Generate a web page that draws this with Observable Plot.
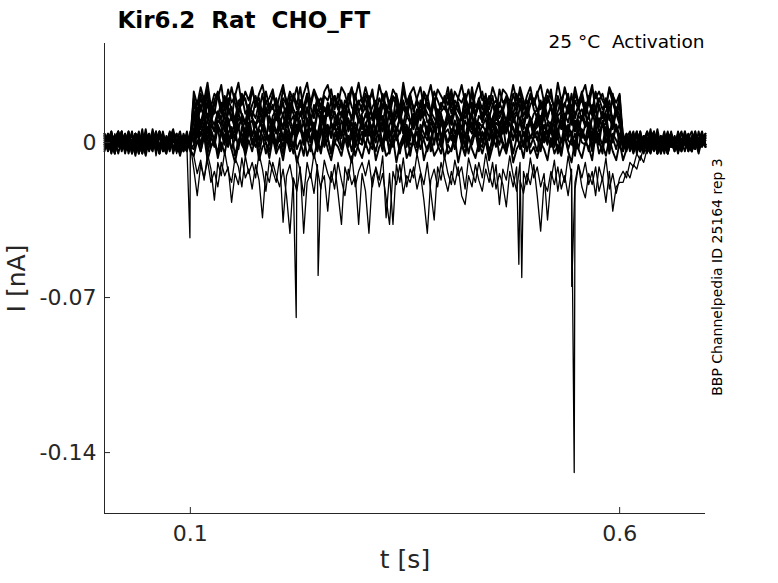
<!DOCTYPE html>
<html><head><meta charset="utf-8">
<script src="https://cdn.jsdelivr.net/npm/d3@7"></script>
<script src="https://cdn.jsdelivr.net/npm/@observablehq/plot@0.6"></script>
<style>body{margin:0;background:#fff} svg text{white-space:pre}</style>
</head><body><div id="chart"></div>
<script>
// sampling step (s) and segment start times
const dt = 0.004;
const segStart = [0, 0.104, 0.604];
// currents in pA, 16 sweeps; pre-pulse (0–0.1 s)
const pre = [
[2,-3,4,-1,5,-4,1,3,-5,0,4,-2,6,-3,2,-1,5,-4,3,-2,0,4,-5,2,-1,3],
[-1,3,-4,2,0,5,-3,1,-2,4,-5,3,0,-1,2,-4,5,1,-3,2,6,-2,0,-4,3,1],
[4,-2,1,-5,3,0,-3,5,-1,2,-4,1,4,-2,0,3,-5,2,-1,4,-3,1,5,-2,-4,2],
[-3,1,5,-2,0,3,-4,2,-1,4,1,-5,3,-2,0,5,-3,1,-4,2,3,-1,-2,4,0,-3],
[0,4,-3,2,-5,1,3,-2,5,-4,0,2,-1,4,-3,1,-5,3,0,-2,4,-4,2,1,-3,5],
[2,-4,0,3,-1,5,-3,1,-2,4,-5,2,0,-3,3,-1,4,-4,1,-2,5,0,-3,2,-1,4],
[-1,3,-5,2,0,-3,4,-2,1,-4,3,0,-6,2,-1,4,-3,1,-5,3,-2,0,2,-4,1,-2],
[3,-2,0,-5,2,-1,4,-3,1,-6,2,0,-4,3,-2,1,-5,4,-1,-3,2,0,-6,1,3,-4],
[1,-4,3,-2,5,0,-3,2,-5,4,-1,3,-2,0,-4,5,-1,2,-3,1,4,-5,0,3,-2,-1],
[-2,2,-5,4,-1,3,-3,0,5,-4,1,-2,3,-1,4,-6,2,0,-3,5,-2,1,-4,3,0,-3],
[1,-2,5,-3,0,4,-1,2,-5,3,-2,6,-4,1,0,-3,4,2,-1,5,-4,0,3,-2,1,-1],
[-4,2,0,-2,5,-1,3,-5,1,4,-3,0,2,-1,-4,5,-2,3,0,-3,1,4,-5,2,0,-2],
[3,-1,-4,2,5,-3,0,1,-2,4,-5,2,3,-1,0,-3,5,-2,1,-4,3,0,-1,2,-3,4],
[0,-3,4,1,-2,3,-5,2,0,-1,5,-3,1,-4,2,0,3,-2,-5,4,1,-1,2,-3,0,3],
[-2,4,1,-5,3,-1,0,5,-3,2,-4,1,3,-2,6,-1,-3,2,0,4,-5,1,-2,3,-1,0],
[4,0,-3,2,-1,5,-4,1,3,-2,0,-5,2,4,-1,1,-3,5,-2,0,3,-4,2,-1,5,-3]
];
// activation step (0.1–0.6 s)
const act = [
[20,14,22,17,24,13,19,23,15,21,16,25,18,12,22,19,14,24,17,20,13,23,16,21,18,
 15,24,19,13,22,17,25,14,20,16,23,18,12,21,19,24,15,22,17,13,20,25,16,19,14,
 22,18,24,13,20,16,23,15,21,19,12,24,17,22,14,20,25,16,18,13,23,19,15,21,17,
 24,14,20,18,22,13,25,16,19,23,15,21,17,12,24,18,20,14,22,16,25,19,13,21,17,
 23,15,20,18,24,13,21,16,25,19,14,22,17,23,15,20,26,14,19,22,16,24,18,13,21],
[11,19,14,21,10,17,13,22,16,12,20,15,9,18,21,13,16,11,19,14,22,12,17,15,20,
 13,18,10,21,15,12,19,16,22,11,14,20,17,9,18,13,21,15,12,19,16,10,22,14,17,
 20,12,16,19,11,21,14,17,10,22,15,18,13,20,16,9,19,12,21,14,17,11,18,15,22,
 13,19,16,10,21,14,18,12,20,15,22,11,17,19,13,16,21,10,18,14,20,12,16,22,15,
 11,18,14,21,16,12,20,13,17,22,10,19,15,21,12,18,14,23,16,11,20,15,19,13,17],
[14,8,17,11,19,9,15,12,18,7,13,16,10,19,12,8,16,14,11,18,9,15,13,17,10,
 16,12,7,18,13,10,19,11,15,8,17,14,9,16,12,19,10,13,18,7,15,11,17,14,9,
 12,18,10,15,8,17,13,19,11,14,9,16,12,18,7,15,10,17,13,11,19,8,14,16,12,
 9,17,14,11,18,8,15,12,19,10,16,13,7,17,11,15,9,18,12,14,10,16,19,8,13,
 15,10,18,12,16,9,14,19,11,17,8,13,16,10,18,12,15,7,17,11,14,19,9,16,12],
[6,13,9,15,4,11,8,14,10,5,16,12,7,13,9,3,15,11,8,12,6,14,10,4,13,
 11,7,15,9,12,5,14,8,16,10,4,13,11,7,15,9,6,12,14,8,10,3,16,11,7,
 13,9,5,15,10,12,6,14,8,11,16,4,12,9,13,7,15,10,5,14,11,8,13,6,12,
 8,14,11,6,15,9,13,4,12,10,16,7,11,14,8,12,5,15,9,13,10,6,14,11,7,
 12,5,14,10,8,15,11,6,13,9,16,7,12,10,14,4,11,15,8,13,9,12,6,14,10],
[3,10,6,12,1,8,5,13,7,2,11,4,9,6,12,0,8,10,3,7,11,5,2,9,13,
 6,1,10,8,4,12,7,3,11,5,9,0,13,6,8,2,10,7,4,12,5,9,1,11,6,
 8,12,3,7,10,5,13,2,9,6,11,4,8,1,12,7,5,10,3,9,6,13,2,8,11,
 4,9,7,12,2,10,6,11,3,8,5,13,1,9,7,10,4,12,6,2,11,8,5,9,3,
 10,6,12,4,8,1,11,7,9,3,13,5,10,2,8,12,6,4,11,7,9,1,12,5,8],
[0,7,3,9,-2,5,1,8,4,-1,10,2,6,-3,7,3,9,0,5,-2,8,4,1,6,-1,
 9,2,5,-2,7,3,10,0,6,1,8,-3,4,7,2,9,-1,5,3,8,0,6,-2,4,10,
 3,8,-1,6,2,9,4,-3,7,1,5,10,0,6,3,-2,8,4,1,7,-1,9,2,5,0,
 6,1,9,3,-2,7,4,10,0,5,2,8,-1,6,3,9,-3,4,7,1,5,-2,8,2,6,
 1,7,4,-1,9,3,6,0,8,2,5,-3,10,4,1,7,-2,6,3,9,0,5,2,8,-1],
[-3,4,-1,6,-5,2,0,7,-4,3,-2,5,-6,1,4,-3,6,-1,2,-5,3,0,-4,5,-2,
 2,-5,4,-1,6,-3,1,-6,5,0,3,-4,7,-2,2,-5,4,1,-3,6,-1,3,-6,0,5,
 -2,6,1,-4,3,-1,5,-5,2,4,-3,0,6,-6,3,-2,5,1,-4,2,7,-1,-5,4,0,
 3,-3,6,0,-5,2,-1,5,-4,4,1,-6,3,-2,6,0,-3,4,-5,2,-1,5,-4,3,1,
 -4,5,0,3,-2,6,-5,1,4,-3,2,-6,5,0,-1,4,-4,3,1,-5,6,-2,2,-3,4],
[-6,1,-4,3,-8,-2,2,-7,0,-5,4,-3,-9,-1,2,-6,1,-4,3,-8,-2,0,-7,2,-5,
 -1,-8,2,-4,0,-9,-3,3,-6,-1,-7,1,-5,4,-3,-8,0,-2,-6,2,-4,-9,1,-3,-7,
 0,-5,3,-8,-2,1,-6,-4,2,-9,-1,3,-7,-3,0,-5,4,-8,-2,1,-6,-3,2,-7,-1,
 -4,2,-9,-1,-6,3,-3,-7,0,-5,1,-8,-2,4,-6,-1,-4,2,-9,-3,0,-7,3,-5,-2,
 -7,0,-3,-8,2,-5,-1,-6,3,-4,-9,1,-3,-7,0,-2,-8,4,-5,-1,-6,2,-4,-8,0],
[-12,-24,-10,-16,-8,-18,-13,-20,-9,-15,-11,-27,-14,-19,-7,-16,-12,-21,-10,-17,-34,-13,-18,-9,-15,
 -20,-12,-24,-41,-16,-22,-11,-41,-18,-14,-23,-10,-19,-15,-31,-13,-21,-9,-17,-24,-12,-19,-15,-37,-14,
 -22,-41,-16,-12,-20,-14,-25,-37,-13,-19,-10,-23,-15,-18,-11,-21,-14,-26,-41,-17,-12,-20,-9,-16,-22,
 -13,-19,-11,-24,-28,-15,-20,-10,-17,-22,-12,-18,-9,-21,-14,-19,-29,-13,-20,-11,-17,-23,-14,-19,-10,
 -24,-40,-18,-22,-13,-19,-11,-21,-15,-24,-12,-18,-10,-20,-25,-14,-19,-11,-22,-16,-27,-13,-31,-20,-18],
[-6,-14,-8,-17,-5,-12,-26,-9,-15,-4,-13,-18,-7,-11,-20,-6,-14,-9,-16,-5,-12,-22,-8,-13,-18,
 -7,-36,-15,-10,-19,-6,-13,-24,-9,-16,-5,-12,-21,-8,-14,-18,-10,-23,-37,-11,-17,-6,-20,-13,-9,
 -15,-8,-20,-11,-17,-6,-34,-14,-37,-10,-18,-7,-20,-12,-16,-5,-13,-19,-9,-22,-35,-11,-17,-6,-14,
 -19,-8,-15,-11,-21,-7,-13,-18,-9,-16,-5,-14,-20,-10,-28,-12,-17,-6,-15,-22,-9,-13,-19,-7,-16,
 -11,-20,-14,-35,-17,-8,-22,-12,-18,-6,-15,-21,-10,-16,-9,-19,-13,-24,-11,-17,-7,-21,-14,-23,-16],
[23,17,25,19,27,16,22,20,26,15,24,18,21,27,17,23,19,25,16,22,26,18,20,24,15,
 21,26,17,23,19,25,16,22,27,18,24,20,15,23,26,19,21,17,25,22,16,24,20,27,18,
 25,19,22,16,26,20,23,17,24,21,15,27,18,22,25,19,16,23,20,26,17,24,21,18,25,
 16,23,20,26,18,24,15,22,27,19,21,17,25,20,16,24,22,18,26,19,23,15,21,25,17,
 22,26,18,24,20,16,27,19,23,21,15,25,18,22,26,17,24,20,23,19,16,25,21,18,22],
[18,12,20,15,22,11,17,21,13,19,16,10,22,14,18,20,12,17,21,15,11,19,14,22,16,
 12,20,17,10,21,15,19,13,22,16,11,18,20,14,17,12,21,15,19,10,22,16,13,18,20,
 15,21,11,18,14,22,16,12,20,17,10,19,13,21,15,18,11,22,16,14,20,12,17,19,13,
 21,14,18,11,20,16,22,13,17,12,19,15,21,10,18,14,20,16,12,22,15,19,11,17,20,
 14,19,12,21,16,10,20,15,18,13,22,11,17,19,14,21,12,16,20,15,18,10,22,13,17],
[9,15,7,13,17,10,5,14,11,16,8,12,6,15,13,9,17,11,7,14,10,16,5,12,15,
 8,13,16,10,6,14,12,17,9,11,5,15,13,7,16,10,14,8,12,17,6,11,15,9,13,
 16,10,12,5,14,9,17,11,7,15,13,8,16,10,6,12,14,17,9,11,5,15,12,8,14,
 10,16,7,13,11,15,6,12,17,9,14,8,11,16,5,13,10,15,12,7,17,9,14,11,6,
 13,8,15,11,17,6,12,14,9,16,10,5,13,15,8,12,17,11,7,14,9,16,10,13,8],
[5,11,3,9,13,6,1,10,8,12,4,7,2,11,9,5,13,3,8,10,6,1,12,7,4,
 10,6,12,2,8,13,5,9,1,11,7,4,10,12,3,8,6,13,2,9,11,5,7,1,12,
 3,9,7,13,5,10,1,8,12,4,11,6,2,9,13,7,3,10,5,12,8,1,11,6,9,
 12,4,8,2,10,6,13,3,9,7,11,1,5,12,8,4,10,2,13,6,9,3,7,11,5,
 7,12,1,9,5,11,3,13,6,8,2,10,4,12,7,9,1,11,5,8,13,3,10,6,2],
[2,8,-1,6,10,3,-2,7,4,9,0,5,1,8,10,-2,6,3,9,1,7,4,-1,10,5,
 7,1,9,4,-2,8,6,2,10,0,5,3,9,-1,7,4,8,1,10,6,-2,3,9,5,0,
 9,3,6,0,8,-1,10,5,2,7,4,9,-2,6,1,8,3,10,5,-1,7,2,9,4,6,
 1,10,4,7,-2,5,9,3,8,0,6,2,10,4,-1,7,5,9,1,8,3,-2,6,10,2,
 5,0,8,3,9,-1,6,10,2,7,4,-2,8,5,1,9,3,7,-1,10,4,6,0,8,3],
[-1,5,-4,3,7,-2,1,-5,6,0,4,-3,2,7,-1,-4,5,1,-2,6,3,-5,0,4,-3,
 4,-2,6,1,-5,3,7,-1,2,-4,5,0,-3,6,2,-5,4,7,-2,1,3,-4,6,0,-1,
 6,0,-3,5,2,-4,7,1,-2,4,-5,3,6,-1,0,5,-3,2,7,-4,1,4,-2,6,-5,
 -3,3,7,-1,4,-5,2,6,0,-2,5,-4,1,7,3,-1,-5,4,2,6,-3,0,5,-2,3,
 2,-4,5,0,6,-2,3,-5,7,1,-1,4,-3,6,2,-4,5,0,3,-1,7,-5,4,1,-2]
];
// after the step (0.6–0.7 s)
const post = [
[-2,4,-3,1,5,-4,2,-1,6,-3,0,3,-5,2,4,-2,1,-4,5,-1,3,-3,2,0,4],
[3,-2,1,5,-4,0,2,-3,4,-1,6,-2,1,-5,3,0,-3,4,2,-1,-4,3,1,5,-2],
[-3,2,5,-1,0,-4,3,1,-2,4,-5,2,0,3,-1,-3,5,-2,1,4,-4,0,2,-1,3],
[1,-4,3,0,-2,5,-3,2,-1,4,-5,1,3,-2,0,-4,2,5,-1,-3,1,4,-2,0,3],
[-2,3,0,-4,5,-1,2,-3,4,1,-5,3,-2,0,4,-3,1,-1,5,-4,2,0,-2,3,-1],
[4,-1,2,-4,0,3,-3,5,1,-2,2,-5,0,4,-1,3,-3,1,-4,2,5,-2,0,3,-1],
[-3,2,-1,4,-5,1,0,-2,3,-4,2,-1,5,-3,0,2,-5,1,3,-2,-1,4,-3,0,2],
[-8,-3,1,-5,0,-2,3,-4,1,-1,4,-3,0,-5,2,-1,3,-4,0,2,-3,1,-2,4,-1],
[-18,-13,-16,-10,-12,-6,-9,-3,-5,-1,-4,2,-3,1,-2,3,-4,0,2,-3,1,4,-2,0,3],
[-13,-16,-9,-11,-5,-8,-2,-5,1,-3,2,-5,0,3,-2,1,-4,2,-1,4,-3,0,2,-2,1],
[2,-3,0,4,-1,-4,3,1,-2,5,-3,0,2,-5,4,-1,1,-3,3,-2,0,5,-4,2,-1],
[0,3,-4,2,-1,5,-2,1,-3,4,0,-5,2,3,-2,1,-4,0,4,-1,2,-3,5,-2,1],
[1,-3,4,-2,0,3,-5,2,-1,1,4,-3,0,-2,5,-4,2,0,-1,3,-3,1,-5,2,4],
[-1,4,-2,0,3,-4,1,5,-3,2,-1,0,4,-5,1,-2,3,-1,2,-4,0,5,-3,1,-2],
[3,-2,1,-4,4,0,-1,2,-5,3,1,-3,0,5,-2,2,-4,1,3,-1,0,4,-3,2,-2],
[-4,1,3,-2,0,4,-1,-3,2,5,-5,1,0,-2,3,-1,4,-3,2,0,-4,3,1,-1,2]
];
// brief deep openings (time s, current pA, sweep index)
const spikeT = [0.0995, 0.2233, 0.2488, 0.4826, 0.486, 0.5442, 0.5471];
const spikeV = [-43, -79, -60, -55, -61, -65, -149];
const spikeTrace = [8, 9, 8, 8, 9, 8, 9];
// sweeps that stay mostly closed (drawn below the main band)
const lowSweeps = [8, 9];

const xTicks = [0.1, 0.6];
const yTicks = [0, -0.07, -0.14];
const xDomain = [0, 0.7];
const yDomain = [-0.1675, 0.0447];

const rows = [];
[pre, act, post].forEach((seg, s) => {
  seg.forEach((arr, k) => arr.forEach((v, i) => rows.push({trace: k, t: segStart[s] + i * dt, I: v / 1000})));
});
spikeT.forEach((t, j) => rows.push({trace: spikeTrace[j], t, I: spikeV[j] / 1000}));
rows.sort((a, b) => a.trace - b.trace || a.t - b.t);
const bandRows = rows.filter(r => !lowSweeps.includes(r.trace));
const lowRows = rows.filter(r => lowSweeps.includes(r.trace));

const ink = "#262626";
const chart = Plot.plot({
  width: 778, height: 583,
  marginLeft: 104, marginRight: 73, marginTop: 43, marginBottom: 70,
  style: {fontFamily: "DejaVu Sans", fontSize: "22px", color: ink, background: "#fff"},
  x: {domain: xDomain},
  y: {domain: yDomain},
  marks: [
    Plot.line(lowRows, {x: "t", y: "I", z: "trace", stroke: "black", strokeWidth: 1.3}),
    Plot.line(bandRows, {x: "t", y: "I", z: "trace", stroke: "black", strokeWidth: 1.9}),
    Plot.ruleX([xDomain[0]], {stroke: ink, strokeWidth: 1}),
    Plot.ruleY([yDomain[0]], {stroke: ink, strokeWidth: 1}),
    Plot.tickX(xTicks, {x: d => d, insetTop: 464, stroke: ink}),
    Plot.tickY(yTicks, {y: d => d, insetRight: 595, stroke: ink}),
    Plot.axisX({ticks: xTicks, tickSize: 0, tickPadding: 12, tickFormat: d => String(d), label: null}),
    Plot.axisY({ticks: yTicks, tickSize: 0, tickPadding: 8, tickFormat: d => String(d), label: null}),
    Plot.text(["t [s]"], {text: d => d, frameAnchor: "bottom", dy: 54, textAnchor: "middle", fontSize: 25, fill: ink}),
    Plot.text(["I [nA]"], {text: d => d, frameAnchor: "left", dx: -88, rotate: -90, textAnchor: "middle", fontSize: 25, fill: ink}),
    Plot.text(["Kir6.2  Rat  CHO_FT"], {text: d => d, frameAnchor: "top-left", dx: 13, dy: -16, lineAnchor: "bottom", textAnchor: "start", fontWeight: "bold", fontSize: 23, fill: "#000"}),
    Plot.text(["25 °C  Activation"], {text: d => d, frameAnchor: "top-right", dx: -1, dy: 4, lineAnchor: "bottom", textAnchor: "end", fontSize: 18.5, fill: "#000"}),
    Plot.text(["BBP Channelpedia ID 25164 rep 3"], {text: d => d, frameAnchor: "right", dx: 12, dy: -1.5, rotate: -90, textAnchor: "middle", fontSize: 14, fill: "#000"})
  ]
});
document.getElementById("chart").appendChild(chart);
</script>
</body></html>
